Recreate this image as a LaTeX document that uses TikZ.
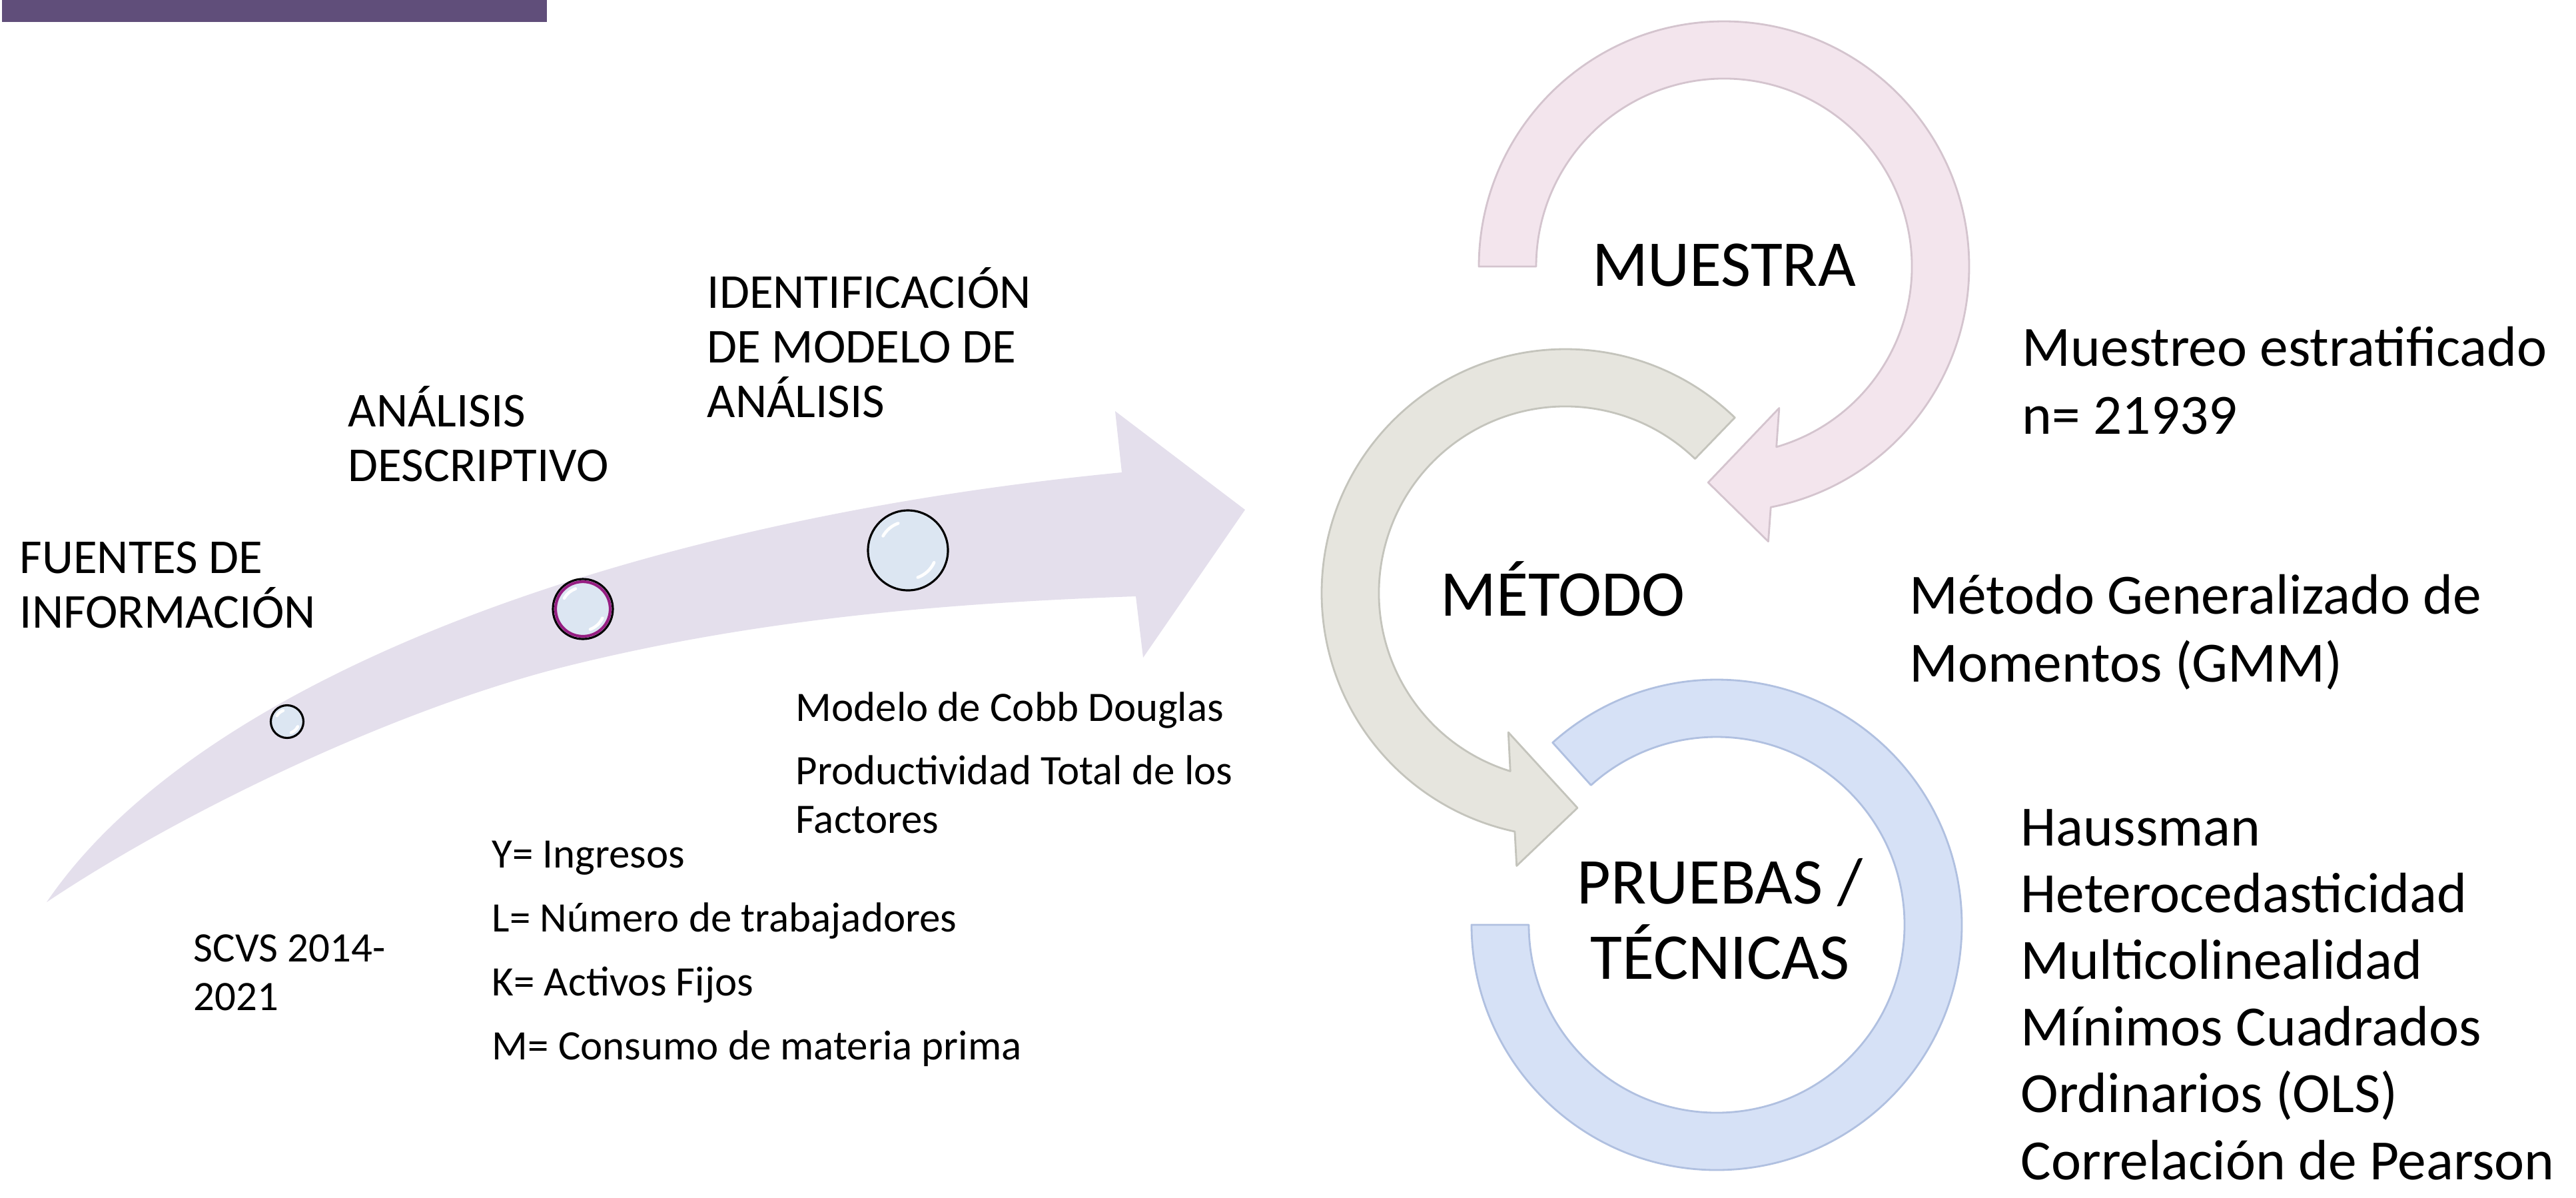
\documentclass[tikz,border=0pt]{standalone}
\usepackage{fontspec}
\setmainfont{Carlito}
\usetikzlibrary{positioning}

\definecolor{barpurple}{RGB}{96,78,122}
\definecolor{arrowlilac}{RGB}{228,223,236}
\definecolor{dotblue}{RGB}{220,230,242}
\definecolor{dotrim}{RGB}{150,30,130}
\definecolor{ringpink}{RGB}{243,229,237}
\definecolor{ringpinkedge}{RGB}{212,196,206}
\definecolor{ringgray}{RGB}{230,229,222}
\definecolor{ringgrayedge}{RGB}{196,196,188}
\definecolor{ringblue}{RGB}{214,225,246}
\definecolor{ringblueedge}{RGB}{176,192,224}

\begin{document}
\begin{tikzpicture}[
      stage/.style = {
        anchor = base west, align = left, inner sep = 0pt,
        font = \fontsize{20.8pt}{23.3pt}\selectfont
      },
      detail/.style = {
        anchor = base west, align = left, inner sep = 0pt,
        font = \fontsize{17.9pt}{20.5pt}\selectfont
      },
      ringlabel/.style = {
        anchor = base, align = center, inner sep = 0pt,
        font = \fontsize{27.9pt}{31.9pt}\selectfont
      },
      note/.style = {
        anchor = base west, align = left, inner sep = 0pt,
        font = \fontsize{24.3pt}{29pt}\selectfont
      },
      dot/.style = {
        circle, draw = black, line width = 0.9pt,
        fill = dotblue, inner sep = 0pt
      },
      ring/.style = { line width = 0.8pt, line join = round },
    ]
    \useasboundingbox (0,0) rectangle (38.67,-17.97);

    % title bar
    \fill[barpurple] (0.03,0) rectangle (8.21,-0.33);

    % curved timeline arrow
    \fill[arrowlilac]
      (0.70,-13.54) .. controls (3.00,-10.15) and (9.50,-7.80) .. (16.84,-7.09)
      -- (16.74,-6.17) -- (18.69,-7.65) -- (17.16,-9.87) -- (17.05,-8.95)
      .. controls (14.20,-9.05) and (11.35,-9.29) .. (8.50,-10.00)
      .. controls (5.90,-10.65) and (2.70,-12.20) .. (0.70,-13.54)
      -- cycle;

    \node[dot, minimum size = 4.9mm] (C1) at (4.31,-10.83) {};
    \node[dot, minimum size = 9mm]   (C2) at (8.75,-9.14)  {};
    \node[dot, minimum size = 12mm]  (C3) at (13.63,-8.26) {};
    \draw[dotrim, line width = 1.2pt] (C2) circle[radius = 0.41];

    \foreach \d/\r in {C1/0.245, C2/0.45, C3/0.60} {
      \draw[white, line width = 1.3pt, line cap = round]
        (\d) ++(110:{0.72*\r}) arc[start angle = 110, end angle = 150, radius = {0.72*\r}];
      \draw[white, line width = 1.3pt, line cap = round]
        (\d) ++(-25:{0.72*\r}) arc[start angle = -25, end angle = -70, radius = {0.72*\r}];
    }

    % multi-line nodes sit on their last baseline
    \node[stage] (fuentes)  at (0.29,-9.42)  {FUENTES DE\\INFORMACIÓN};
    \node[stage] (analisis) at (5.22,-7.22)  {ANÁLISIS\\DESCRIPTIVO};
    \node[stage] (ident)    at (10.61,-6.26) {IDENTIFICACIÓN\\DE MODELO DE\\ANÁLISIS};

    \node[detail] (scvs) at (2.90,-15.16) {SCVS 2014-\\2021};
    \node[detail, font = \fontsize{17.9pt}{27.3pt}\selectfont] (vars) at (7.38,-15.90)
      {Y= Ingresos\\L= Número de trabajadores\\K= Activos Fijos\\M= Consumo de materia prima};
    \node[detail] (cobb) at (11.94,-10.82) {Modelo de Cobb Douglas};
    \node[detail] (ptf)  at (11.94,-12.50) {Productividad Total de los\\Factores};

    % circular arrows
    \begin{scope}[shift = {(25.77,-13.88)}]
      \filldraw[ring, fill = ringblue, draw = ringblueedge]
        (180:3.68) arc[start angle = 180, end angle = 492, radius = 3.68]
        -- (132:2.82) arc[start angle = 132, end angle = -180, radius = 2.82] -- cycle;
    \end{scope}

    \begin{scope}[shift = {(23.50,-8.90)}]
      \filldraw[ring, fill = ringgray, draw = ringgrayedge]
        (46:3.66) arc[start angle = 46, end angle = 258, radius = 3.66]
        -- (259.85:4.16) -- (273.2:3.23) -- (247.7:2.26) -- (252.8:2.80)
        arc[start angle = 252.8, end angle = 46, radius = 2.80] -- cycle;
    \end{scope}

    \begin{scope}[shift = {(25.88,-4.00)}]
      \filldraw[ring, fill = ringpink, draw = ringpinkedge]
        (180:3.68) arc[start angle = 180, end angle = -79, radius = 3.68]
        -- (-80.85:4.18) -- (-94.2:3.25) -- (-68.7:2.28) -- (-73.8:2.82)
        arc[start angle = -73.8, end angle = 180, radius = 2.82] -- cycle;
    \end{scope}

    \node[ringlabel] (muestra) at (25.88,-4.29)  {MUESTRA};
    \node[ringlabel] (metodo)  at (23.46,-9.24)  {MÉTODO};
    \node[ringlabel] (pruebas) at (25.82,-14.69) {PRUEBAS /\\TÉCNICAS};

    \node[note] (muestreo) at (30.35,-6.51)  {Muestreo estratificado\\n= 21939};
    \node[note] (gmm)      at (28.66,-10.23) {Método Generalizado de\\Momentos (GMM)};
    \node[note, font = \fontsize{24.3pt}{28.5pt}\selectfont] (tecnicas) at (30.33,-17.70)
      {Haussman\\Heterocedasticidad\\Multicolinealidad\\Mínimos Cuadrados\\Ordinarios (OLS)\\Correlación de Pearson};
  \end{tikzpicture}
\end{document}
